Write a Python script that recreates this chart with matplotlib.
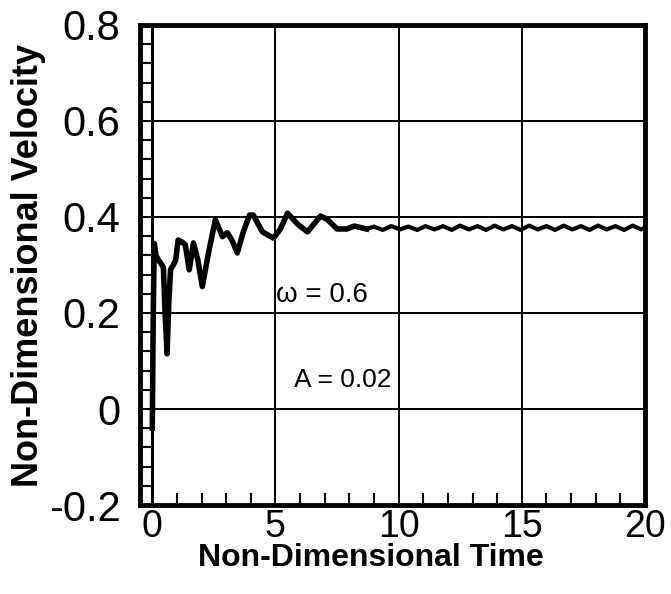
import matplotlib.pyplot as plt
from matplotlib.ticker import MultipleLocator

plt.rcParams['font.family'] = ['Liberation Sans', 'DejaVu Sans']

# non-dimensional time and velocity
time_early = [0.0, 0.04, 0.08, 0.15, 0.25, 0.33, 0.45, 0.52, 0.6, 0.67, 0.74,
              0.85, 0.95, 1.05, 1.2, 1.34, 1.5, 1.67, 1.85, 2.03, 2.3, 2.56,
              2.85, 3.05, 3.25, 3.45, 3.7, 3.95, 4.1, 4.47, 4.92, 5.2, 5.49,
              5.9, 6.3, 6.83, 7.1, 7.5, 7.9, 8.2, 8.7]
vel_early = [-0.04, 0.2, 0.345, 0.32, 0.31, 0.305, 0.295, 0.2, 0.115, 0.22, 0.29,
             0.3, 0.31, 0.352, 0.348, 0.342, 0.29, 0.346, 0.31, 0.255, 0.33, 0.394,
             0.359, 0.367, 0.35, 0.325, 0.37, 0.404, 0.404, 0.369, 0.356, 0.375, 0.408,
             0.385, 0.369, 0.402, 0.395, 0.375, 0.375, 0.381, 0.375]

time_late = [9.0, 9.35, 9.7, 10.05, 10.4, 10.75, 11.1, 11.45, 11.8, 12.15, 12.5,
             12.85, 13.2, 13.55, 13.9, 14.25, 14.6, 14.95, 15.3, 15.65, 16.0,
             16.35, 16.7, 17.05, 17.4, 17.75, 18.1, 18.45, 18.8, 19.15, 19.5,
             19.85, 20.0]
vel_late = [0.380, 0.373, 0.381, 0.374, 0.380, 0.373, 0.381, 0.374, 0.381, 0.373, 0.382,
            0.374, 0.381, 0.373, 0.382, 0.374, 0.381, 0.373, 0.382, 0.374, 0.381,
            0.373, 0.382, 0.374, 0.381, 0.373, 0.382, 0.374, 0.381, 0.373, 0.382,
            0.374, 0.378]

x_ticks = [0, 5, 10, 15, 20]
y_ticks = [-0.2, 0, 0.2, 0.4, 0.6, 0.8]
y_tick_labels = ['-0.2', '0', '0.2', '0.4', '0.6', '0.8']

fig = plt.figure(figsize=(6.71, 5.94), dpi=100)
ax = fig.add_axes([0.2086, 0.1498, 0.7526, 0.8082])

ax.plot(time_early, vel_early, color='black', lw=4.0,
        solid_joinstyle='round', zorder=3)
ax.plot([time_early[-1]] + time_late, [vel_early[-1]] + vel_late, color='black',
        lw=3.0, solid_joinstyle='round', zorder=3)

ax.set_xlim(-0.5, 20)
ax.set_ylim(-0.2, 0.8)

ax.set_xticks(x_ticks)
ax.set_yticks(y_ticks)
ax.set_yticklabels(y_tick_labels)
ax.xaxis.set_minor_locator(MultipleLocator(1))
ax.yaxis.set_minor_locator(MultipleLocator(0.04))

ax.tick_params(axis='x', which='major', length=0, labelsize=27, pad=3)
ax.tick_params(axis='y', which='major', length=0, labelsize=30, pad=14)
ax.tick_params(which='minor', direction='in', length=9, width=1.5, color='black')

for spine in ax.spines.values():
    spine.set_linewidth(3.5)

ax.grid(which='major', color='black', lw=1.4)
ax.axvline(0, color='black', lw=2.2)

ax.text(6.9, 0.238, '\u03c9 = 0.6', fontsize=20, ha='center', va='center')
ax.text(7.75, 0.06, 'A = 0.02', fontsize=19, ha='center', va='center')

ax.set_xlabel('Non-Dimensional Time', fontsize=23, fontweight='bold')
ax.xaxis.set_label_coords(0.457, -0.08)
ax.set_ylabel('Non-Dimensional Velocity', fontsize=26, fontweight='bold', labelpad=2)

plt.savefig('out.png', dpi=100)
